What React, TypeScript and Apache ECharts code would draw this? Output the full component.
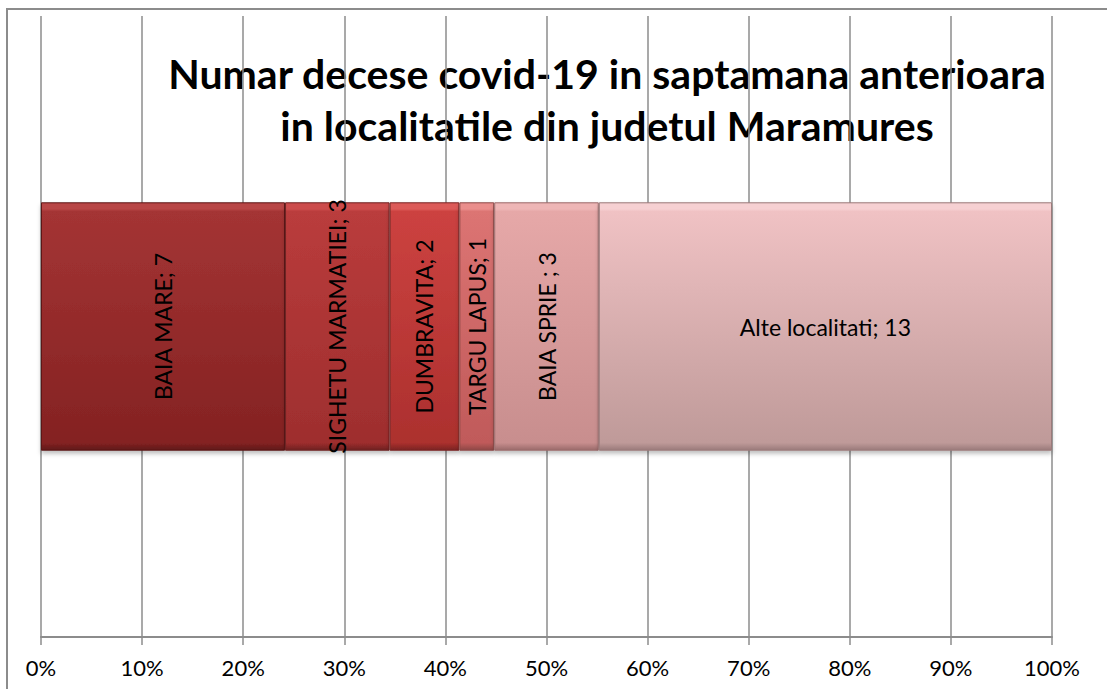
import React, { useEffect, useRef } from "react";
import * as echarts from "echarts";

const categories = ["Decese"];
const localities = ["BAIA MARE", "SIGHETU MARMATIEI", "DUMBRAVITA", "TARGU LAPUS", "BAIA SPRIE ", "Alte localitati"];
const deaths = [7, 3, 2, 1, 3, 13];
const tickLabels = ["0%", "10%", "20%", "30%", "40%", "50%", "60%", "70%", "80%", "90%", "100%"];
const titleLines = ["Numar decese covid-19 in saptamana anterioara", "in localitatile din judetul Maramures"];

const edgeColors = ["#b84444", "#cc4c4c", "#dc5a58", "#ea8e8c", "#eeb6b6", "#f6d0d2"];
const topColors = ["#a43434", "#ba3c3c", "#cc4240", "#dc7473", "#e6a8a8", "#f0c2c4"];
const bottomColors = ["#842222", "#9e2e2e", "#ac302e", "#c05a5a", "#c88e8e", "#bf9a99"];
const borderColors = ["#5e1818", "#6e2020", "#7a2422", "#8e4846", "#9a6a6a", "#9a7a7a"];

const FONT = "Lato, 'Noto Sans', sans-serif";

export default function App() {
  const ref = useRef<HTMLDivElement>(null);
  useEffect(() => {
    if (!ref.current) return;
    const chart = echarts.init(ref.current, null, { renderer: "svg" });
    const total = deaths.reduce((a, b) => a + b, 0);
    const series = localities.map((name, i) => ({
      type: "bar",
      name,
      stack: "total",
      barWidth: "40%",
      data: [(deaths[i] / total) * 100],
      itemStyle: {
        color: new echarts.graphic.LinearGradient(0, 0, 0, 1, [
          { offset: 0, color: edgeColors[i] },
          { offset: 0.025, color: edgeColors[i] },
          { offset: 0.035, color: topColors[i] },
          { offset: 0.97, color: bottomColors[i] },
          { offset: 1, color: borderColors[i] },
        ]),
        borderColor: borderColors[i],
        borderWidth: 1,
        shadowColor: "rgba(0,0,0,0.25)",
        shadowBlur: 4,
        shadowOffsetY: 3,
      },
      label: {
        show: true,
        position: "inside",
        rotate: i === localities.length - 1 ? 0 : 90,
        formatter: () => `${name}; ${deaths[i]}`,
        color: "#000",
        fontFamily: FONT,
        fontSize: 23,
        overflow: "none",
      },
    }));
    chart.setOption({
      animation: false,
      backgroundColor: "#fff",
      grid: { left: 41, right: 55, top: 16, bottom: 52, containLabel: false },
      xAxis: {
        type: "value",
        min: 0,
        max: 100,
        interval: 10,
        axisLine: { show: true, lineStyle: { color: "#8c8c8c", width: 2 } },
        axisTick: { show: true, length: 8, lineStyle: { color: "#8c8c8c", width: 1.5 } },
        splitLine: { show: true, lineStyle: { color: "#8c8c8c", width: 1.5 } },
        axisLabel: {
          color: "#000",
          fontFamily: FONT,
          fontSize: 22,
          margin: 19,
          formatter: (v: number) => tickLabels[Math.round(v / 10)],
        },
      },
      yAxis: {
        type: "category",
        data: categories,
        axisLine: { show: false },
        axisTick: { show: false },
        axisLabel: { show: false },
      },
      series,
      graphic: [
        {
          type: "rect",
          shape: { x: 7, y: 9, width: 1200, height: 800 },
          style: { fill: "none", stroke: "#8c8c8c", lineWidth: 2 },
          z: 100,
        },
        {
          type: "text",
          x: 607,
          y: 73,
          z: -10,
          style: {
            text: titleLines[0],
            fill: "#000",
            font: `bold 41px ${FONT}`,
            textAlign: "center",
            textVerticalAlign: "middle",
          },
        },
        {
          type: "text",
          x: 607,
          y: 125,
          z: -10,
          style: {
            text: titleLines[1],
            fill: "#000",
            font: `bold 41px ${FONT}`,
            textAlign: "center",
            textVerticalAlign: "middle",
          },
        },
      ],
    });
    return () => chart.dispose();
  }, []);
  return (
    <div
      ref={ref}
      style={{ position: "absolute", left: 0, top: 0, width: 1107, height: 689 }}
    />
  );
}
